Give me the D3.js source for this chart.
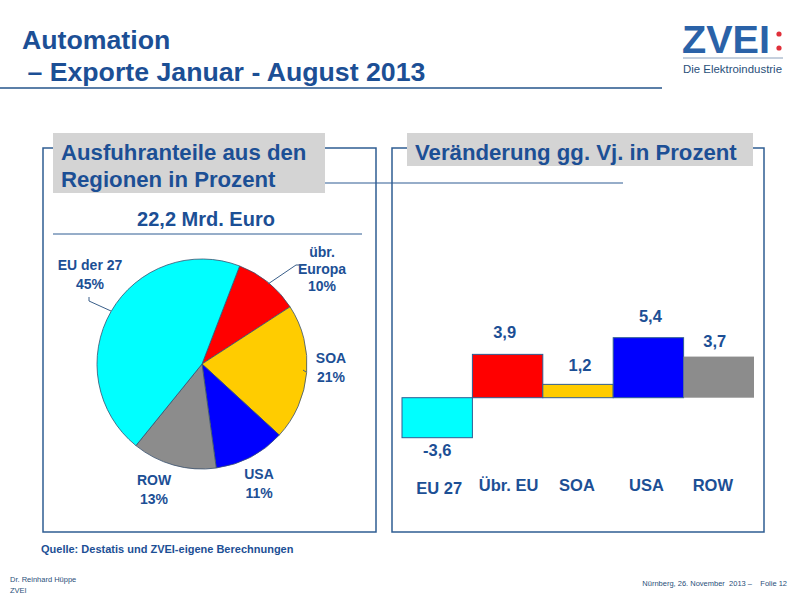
<!DOCTYPE html>
<html>
<head>
<meta charset="utf-8">
<script src="https://cdn.jsdelivr.net/npm/d3@7"></script>
<style>
  body { margin: 0; background: #fff; }
  svg { display: block; font-family: "Liberation Sans", Arial, sans-serif; }
</style>
</head>
<body>
<div id="chart"></div>
<script>
// pie data: share of exports by region (percent)
var pieLabels = ["übr. Europa", "SOA", "USA", "ROW", "EU der 27"];
var pieValues = [10, 21, 11, 13, 45];
var pieColors = ["#ff0000", "#ffcc00", "#0000ff", "#8c8c8c", "#00ffff"];

// bar data: change vs. previous year (percent)
var barCategories = ["EU 27", "Übr. EU", "SOA", "USA", "ROW"];
var barValues = [-3.6, 3.9, 1.2, 5.4, 3.7];
var barColors = ["#00ffff", "#ff0000", "#ffcc00", "#0000ff", "#8c8c8c"];

var blue = "#1c4f95";
var frame = "#2f5d93";

var svg = d3.select("#chart").append("svg")
  .attr("width", 800).attr("height", 600);

//Title
svg.append("text").attr("x", 22).attr("y", 49)
  .attr("fill", blue).attr("font-size", 26.7).attr("font-weight", "bold")
  .text("Automation");
svg.append("text").attr("x", 20).attr("y", 81)
  .attr("fill", blue).attr("font-size", 26.7).attr("font-weight", "bold")
  .attr("xml:space", "preserve")
  .text(" – Exporte Januar - August 2013");
svg.append("line").attr("x1", 0).attr("x2", 662).attr("y1", 88).attr("y2", 88)
  .attr("stroke", "#5b7fa8").attr("stroke-width", 2);

//Logo
var logo = svg.append("g");
logo.append("text").attr("x", 682).attr("y", 53)
  .attr("fill", "#2a62a8").attr("font-size", 38).attr("font-weight", "bold")
  .attr("textLength", 88).attr("lengthAdjust", "spacingAndGlyphs")
  .text("ZVEI");
logo.append("circle").attr("cx", 779).attr("cy", 34).attr("r", 2.6).attr("fill", "#e0303a");
logo.append("circle").attr("cx", 779).attr("cy", 48).attr("r", 2.6).attr("fill", "#e0303a");
logo.append("line").attr("x1", 683).attr("x2", 783).attr("y1", 58).attr("y2", 58)
  .attr("stroke", "#8aa0bb").attr("stroke-width", 1);
logo.append("text").attr("x", 683).attr("y", 73)
  .attr("fill", "#2a4f7a").attr("font-size", 10.5)
  .attr("textLength", 99).attr("lengthAdjust", "spacingAndGlyphs")
  .text("Die Elektroindustrie");

//Panel frames
function panel(x0, x1, boxX0, boxX1, boxY1, lines) {
  var path = "M" + boxX0 + ",148 H" + x0 + " V532 H" + x1 + " V148 H" + boxX1;
  svg.append("path").attr("d", path).attr("fill", "none")
    .attr("stroke", frame).attr("stroke-width", 1.5);
  svg.append("rect").attr("x", boxX0).attr("y", 133)
    .attr("width", boxX1 - boxX0).attr("height", boxY1 - 133).attr("fill", "#d4d4d4");
  lines.forEach(function(t, i) {
    svg.append("text").attr("x", boxX0 + 8).attr("y", 160 + i * 27)
      .attr("fill", blue).attr("font-size", 22.2).attr("font-weight", "bold").text(t);
  });
}
panel(43, 376, 53, 325, 193, ["Ausfuhranteile aus den", "Regionen in Prozent"]);
panel(392, 764, 407, 753, 166, ["Veränderung gg. Vj. in Prozent"]);

svg.append("line").attr("x1", 325).attr("x2", 623).attr("y1", 183).attr("y2", 183)
  .attr("stroke", frame).attr("stroke-width", 1.2);

//Pie
svg.append("text").attr("x", 206).attr("y", 226).attr("text-anchor", "middle")
  .attr("fill", blue).attr("font-size", 20).attr("font-weight", "bold")
  .text("22,2 Mrd. Euro");
svg.append("line").attr("x1", 53).attr("x2", 362).attr("y1", 234).attr("y2", 234)
  .attr("stroke", frame).attr("stroke-width", 1);

var cx = 202, cy = 364, r = 105;
var start = 21 * Math.PI / 180;
var pie = d3.pie().sort(null).value(function(d) { return d; })
  .startAngle(start).endAngle(start + 2 * Math.PI);
var arc = d3.arc().innerRadius(0).outerRadius(r);

var pieG = svg.append("g").attr("transform", "translate(" + cx + "," + cy + ")");
pieG.selectAll("path").data(pie(pieValues)).enter().append("path")
  .attr("d", arc)
  .attr("fill", function(d, i) { return pieColors[i]; })
  .attr("stroke", "#3a5270").attr("stroke-width", 0.8);

// label positions (absolute), leader lines
var pieLabelPos = [
  {x: 322, y: [257, 274, 291], lines: ["übr.", "Europa", "10%"]},
  {x: 331, y: [363, 382], lines: ["SOA", "21%"]},
  {x: 259, y: [479, 498], lines: ["USA", "11%"]},
  {x: 154, y: [485, 504], lines: ["ROW", "13%"]},
  {x: 90, y: [270, 289], lines: ["EU der 27", "45%"]}
];
pieLabelPos.forEach(function(p, i) {
  p.lines.forEach(function(t, j) {
    svg.append("text").attr("x", p.x).attr("y", p.y[j]).attr("text-anchor", "middle")
      .attr("fill", blue).attr("font-size", 14).attr("font-weight", "bold")
      .text(t);
  });
});
var leader = "#3a5f8a";
svg.append("path").attr("d", "M268,284 L296,265 H302").attr("fill", "none").attr("stroke", leader);
svg.append("path").attr("d", "M89,297 V301 L111,311").attr("fill", "none").attr("stroke", leader);
svg.append("path").attr("d", "M306,372 L303,370").attr("fill", "none").attr("stroke", leader);

//Bar chart
var x = d3.scaleBand().domain(barCategories).range([402, 754]).padding(0);
var y = d3.scaleLinear().domain([-3.6, 5.4]).range([437.7, 337.7]);

svg.append("g").selectAll("rect").data(barValues).enter().append("rect")
  .attr("x", function(d, i) { return x(barCategories[i]); })
  .attr("y", function(d) { return y(Math.max(0, d)); })
  .attr("width", x.bandwidth())
  .attr("height", function(d) { return Math.abs(y(d) - y(0)); })
  .attr("fill", function(d, i) { return barColors[i]; })
  .attr("stroke", function(d, i) { return i === 4 ? "none" : "#2f5d93"; })
  .attr("stroke-width", 1);

var labelOffsets = [0, -3, 2, 2, -4];
svg.append("g").selectAll("text").data(barValues).enter().append("text")
  .attr("x", function(d, i) { return x(barCategories[i]) + x.bandwidth() / 2 + labelOffsets[i]; })
  .attr("y", function(d, i) {
    if (d < 0) return y(d) + 18;
    return y(d) - (i === 2 ? 13 : i === 4 ? 10 : 16);
  })
  .attr("text-anchor", "middle")
  .attr("fill", blue).attr("font-size", 16.5).attr("font-weight", "bold")
  .text(function(d) { return String(d).replace(".", ","); });

var catOffsets = [2, 1, -1, -2, -6];
svg.append("g").selectAll("text").data(barCategories).enter().append("text")
  .attr("x", function(d, i) { return x(d) + x.bandwidth() / 2 + catOffsets[i]; })
  .attr("y", function(d, i) { return i === 0 ? 494 : 491; })
  .attr("text-anchor", "middle")
  .attr("fill", blue).attr("font-size", 16.5).attr("font-weight", "bold")
  .text(function(d) { return d; });

//Footer
svg.append("text").attr("x", 41).attr("y", 553)
  .attr("fill", blue).attr("font-size", 11).attr("font-weight", "bold")
  .text("Quelle: Destatis und ZVEI-eigene Berechnungen");
svg.append("text").attr("x", 10).attr("y", 582)
  .attr("fill", "#2a4f7a").attr("font-size", 7.5).text("Dr. Reinhard Hüppe");
svg.append("text").attr("x", 10).attr("y", 593)
  .attr("fill", "#2a4f7a").attr("font-size", 7.5).text("ZVEI");
svg.append("text").attr("x", 787).attr("y", 586).attr("text-anchor", "end")
  .attr("fill", "#2a4f7a").attr("font-size", 7.5).attr("xml:space", "preserve")
  .text("Nürnberg, 26. November  2013 –    Folie 12");
</script>
</body>
</html>
